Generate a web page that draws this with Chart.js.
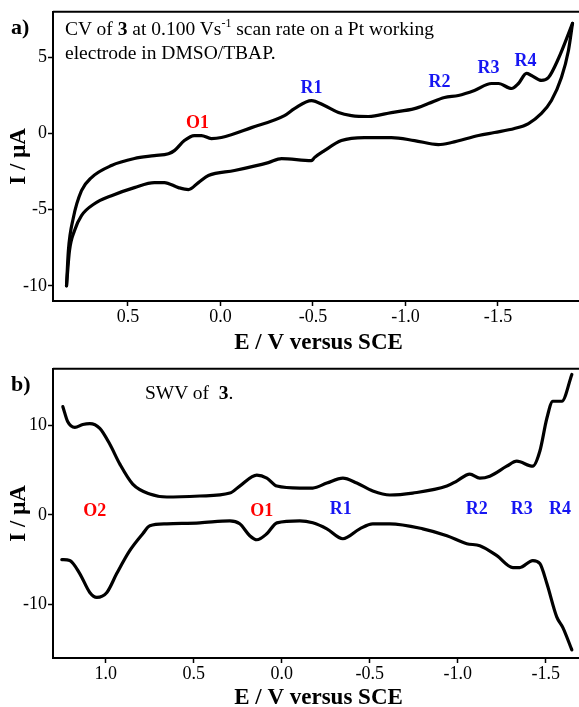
<!DOCTYPE html>
<html>
<head>
<meta charset="utf-8">
<script src="https://cdn.jsdelivr.net/npm/chart.js@4.4.0/dist/chart.umd.min.js"></script>
<style>
  html, body { margin: 0; background: #fff; }
  body { width: 579px; height: 707px; position: relative; overflow: hidden; font-family: "Liberation Serif", "Times New Roman", serif; }
  canvas { position: absolute; left: 0; }
  #cvChart { top: 0; }
  #swvChart { top: 357px; }
  .note { position: absolute; font-size: 19.5px; line-height: 24px; color: #000; white-space: nowrap; }
  .panel { position: absolute; font-size: 22px; font-weight: bold; }
</style>
</head>
<body>
<canvas id="cvChart" width="584" height="357"></canvas>
<canvas id="swvChart" width="584" height="355"></canvas>
<div class="panel" style="left:11px; top:14px;">a)</div>
<div class="note" style="left:65px; top:17px;">CV of <b>3</b> at 0.100 Vs<sup style="font-size:12px; vertical-align:8px; line-height:0">-1</sup> scan rate on a Pt working<br>electrode in DMSO/TBAP.</div>
<div class="panel" style="left:11px; top:371px;">b)</div>
<div class="note" style="left:145px; top:381px;">SWV of&nbsp; <b>3</b>.</div>
<script>
// CV, panel a: forward (upper) and return (lower) branches, E in V, I in µA
const cvUpperE = [0.832, 0.822, 0.795, 0.751, 0.697, 0.589, 0.465, 0.357, 0.281, 0.249, 0.195, 0.141, 0.103, 0.049, -0.005, -0.168, -0.346, -0.40, -0.492, -0.562, -0.638, -0.708, -0.80, -0.924, -1.049, -1.124, -1.211, -1.286, -1.373, -1.465, -1.503, -1.573, -1.611, -1.654, -1.681, -1.735, -1.773, -1.827, -1.903];
const cvUpperI = [-10.0, -7.7, -5.53, -3.75, -2.89, -2.1, -1.64, -1.45, -1.32, -1.12, -0.46, -0.13, -0.13, -0.33, -0.26, 0.39, 1.18, 1.64, 2.17, 1.84, 1.38, 1.18, 1.12, 1.38, 1.64, 1.97, 2.37, 2.5, 2.83, 3.29, 3.29, 2.96, 3.29, 3.95, 3.82, 3.49, 3.68, 4.93, 7.24];
const cvLowerE = [0.832, 0.816, 0.789, 0.751, 0.681, 0.589, 0.465, 0.357, 0.303, 0.227, 0.173, 0.119, 0.065, -0.076, -0.259, -0.33, -0.492, -0.508, -0.562, -0.654, -0.778, -0.924, -1.049, -1.178, -1.249, -1.395, -1.481, -1.589, -1.665, -1.735, -1.789, -1.843, -1.881, -1.903];
const cvLowerI = [-10.0, -7.7, -6.38, -5.39, -4.61, -4.08, -3.55, -3.22, -3.22, -3.55, -3.68, -3.22, -2.76, -2.43, -1.91, -1.64, -1.78, -1.58, -1.12, -0.46, -0.26, -0.26, -0.46, -0.72, -0.59, -0.13, 0.07, 0.33, 0.66, 1.32, 2.17, 3.68, 5.46, 7.24];

// SWV, panel b: forward (upper) and reverse (lower) traces
const swvUpperE = [1.244, 1.216, 1.176, 1.131, 1.091, 1.034, 0.977, 0.92, 0.847, 0.75, 0.653, 0.466, 0.295, 0.239, 0.142, 0.085, 0.028, -0.102, -0.176, -0.256, -0.347, -0.426, -0.517, -0.614, -0.744, -0.938, -0.994, -1.068, -1.125, -1.182, -1.278, -1.335, -1.426, -1.466, -1.506, -1.54, -1.591, -1.648];
const swvUpperI = [12.1, 10.4, 9.78, 10.1, 10.2, 9.67, 7.89, 5.67, 3.44, 2.33, 2.0, 2.11, 2.44, 3.22, 4.44, 4.11, 3.22, 3.0, 3.0, 3.56, 4.11, 3.56, 2.67, 2.22, 2.44, 3.22, 3.78, 4.56, 4.11, 4.33, 5.44, 6.0, 5.44, 7.11, 10.8, 12.7, 12.7, 15.7];
const swvLowerE = [1.25, 1.205, 1.148, 1.091, 1.051, 0.994, 0.938, 0.864, 0.79, 0.75, 0.653, 0.466, 0.295, 0.239, 0.182, 0.142, 0.085, 0.028, -0.102, -0.176, -0.256, -0.347, -0.443, -0.517, -0.614, -0.801, -0.938, -1.051, -1.125, -1.222, -1.313, -1.352, -1.426, -1.466, -1.506, -1.562, -1.597, -1.648];
const swvLowerI = [-5.0, -5.11, -6.56, -8.67, -9.22, -8.67, -6.56, -4.0, -2.11, -1.22, -1.0, -0.89, -0.67, -1.0, -2.33, -2.78, -2.11, -0.89, -0.67, -0.89, -1.56, -2.67, -1.56, -1.0, -1.0, -1.56, -2.33, -3.22, -3.44, -4.56, -5.89, -5.89, -5.11, -5.44, -7.67, -11.4, -12.6, -15.1];

// tick values
const cvTicksE = [0.5, 0, -0.5, -1.0, -1.5];
const cvTicksI = [5, 0, -5, -10];
const swvTicksE = [1.0, 0.5, 0, -0.5, -1.0, -1.5];
const swvTicksI = [10, 0, -10];

// peak labels (text, anchor E, anchor I)
const cvPeakNames = ['O1', 'R1', 'R2', 'R3', 'R4'];
const cvPeakE = [0.124, -0.492, -1.184, -1.449, -1.649];
const cvPeakI = [0.66, 2.96, 3.36, 4.28, 4.74];
const swvPeakNames = ['O2', 'O1', 'R1', 'R2', 'R3', 'R4'];
const swvPeakE = [1.063, 0.114, -0.335, -1.108, -1.364, -1.58];
const swvPeakI = [0.44, 0.44, 0.67, 0.67, 0.67, 0.67];

const RED = '#ff0000';
const BLUE = '#1616f2';
const serif = '"Liberation Serif", "Times New Roman", serif';

const toPoints = (xs, ys) => xs.map((x, i) => ({ x: x, y: ys[i] }));

const peakLabels = {
    id: 'peakLabels',
    afterDatasetsDraw(chart, args, opts) {
        const { ctx, chartArea, scales } = chart;
        ctx.save();
        // top frame line (the plot box is open on the right, beyond the page edge)
        ctx.strokeStyle = '#000';
        ctx.lineWidth = 2;
        ctx.beginPath();
        ctx.moveTo(chartArea.left, chartArea.top);
        ctx.lineTo(chartArea.right, chartArea.top);
        ctx.stroke();

        ctx.font = 'bold 18px ' + serif;
        ctx.textAlign = 'center';
        ctx.textBaseline = 'middle';
        opts.names.forEach((name, i) => {
            ctx.fillStyle = name[0] === 'O' ? RED : BLUE;
            ctx.fillText(name, scales.x.getPixelForValue(opts.e[i]), scales.y.getPixelForValue(opts.i[i]));
        });
        ctx.restore();
    }
};

function lineSet(data) {
    return {
        data: data,
        showLine: true,
        borderColor: '#000',
        borderWidth: 3.2,
        pointRadius: 0,
        cubicInterpolationMode: 'monotone',
        borderCapStyle: 'round',
        borderJoinStyle: 'round',
        fill: false
    };
}

function makeChart(id, cfg) {
    const tickFont = { family: serif, size: 18 };
    const titleFont = { family: serif, size: 23, weight: 'bold' };
    return new Chart(document.getElementById(id), {
        type: 'scatter',
        data: { datasets: cfg.sets.map(lineSet) },
        options: {
            responsive: false,
            animation: false,
            layout: { padding: { top: cfg.top, left: 0, right: 0, bottom: 0 } },
            plugins: {
                legend: { display: false },
                tooltip: { enabled: false },
                peakLabels: { names: cfg.names, e: cfg.peakE, i: cfg.peakI }
            },
            scales: {
                x: {
                    type: 'linear',
                    reverse: true,
                    min: cfg.xMin,
                    max: cfg.xMax,
                    afterBuildTicks: s => { s.ticks = cfg.xTicks.map(v => ({ value: v })); },
                    afterFit: s => { s.height = cfg.xHeight; },
                    border: { display: true, color: '#000', width: 2 },
                    grid: { drawOnChartArea: false, drawTicks: true, tickLength: 5, tickColor: '#000', tickWidth: 1.5 },
                    ticks: { color: '#000', font: tickFont, padding: 0, maxRotation: 0, callback: v => v.toFixed(1) },
                    title: { display: true, text: 'E / V versus SCE', color: '#000', font: titleFont, padding: { top: 0, bottom: 0 } }
                },
                y: {
                    type: 'linear',
                    min: cfg.yMin,
                    max: cfg.yMax,
                    afterBuildTicks: s => { s.ticks = cfg.yTicks.map(v => ({ value: v })); },
                    afterFit: s => { s.width = 53; },
                    border: { display: true, color: '#000', width: 2 },
                    grid: { drawOnChartArea: false, drawTicks: true, tickLength: 5, tickColor: '#000', tickWidth: 1.5 },
                    ticks: { color: '#000', font: tickFont, padding: 1, callback: v => String(v) },
                    title: { display: true, text: 'I / μA', color: '#000', font: titleFont, padding: { top: 5, bottom: 0 } }
                }
            }
        },
        plugins: [peakLabels]
    });
}

// canvases are 584 wide; the page shows 579, so the axis range runs just past the visible edge
makeChart('cvChart', {
    sets: [toPoints(cvUpperE, cvUpperI), toPoints(cvLowerE, cvLowerI)],
    top: 11,
    xHeight: 56,
    xMin: -1.965, xMax: 0.905,
    yMin: -11, yMax: 8,
    xTicks: cvTicksE, yTicks: cvTicksI,
    names: cvPeakNames, peakE: cvPeakE, peakI: cvPeakI
});

makeChart('swvChart', {
    sets: [toPoints(swvUpperE, swvUpperI), toPoints(swvLowerE, swvLowerI)],
    top: 10,
    xHeight: 54,
    xMin: -1.717, xMax: 1.30,
    yMin: -16, yMax: 16.33,
    xTicks: swvTicksE, yTicks: swvTicksI,
    names: swvPeakNames, peakE: swvPeakE, peakI: swvPeakI
});
</script>
</body>
</html>
